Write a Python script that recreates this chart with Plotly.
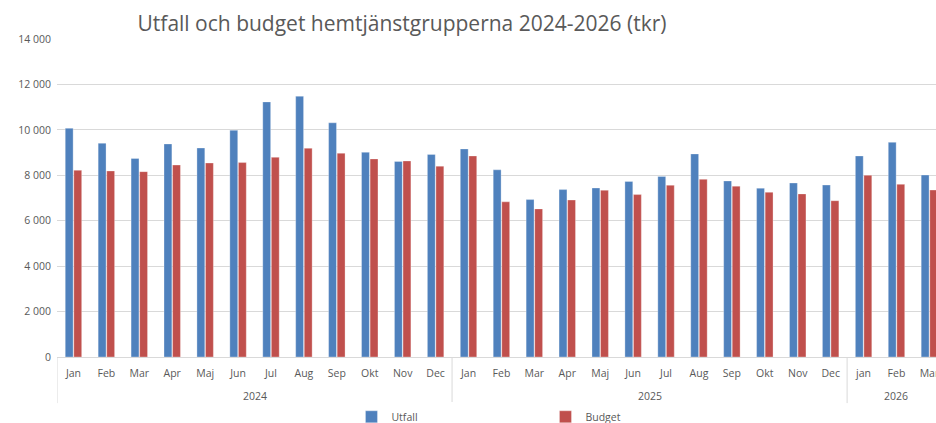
import plotly.graph_objects as go

# Data (tkr)
years = ["2024"] * 12 + ["2025"] * 12 + ["2026"] * 3
months = ["Jan", "Feb", "Mar", "Apr", "Maj", "Jun", "Jul", "Aug", "Sep", "Okt", "Nov", "Dec",
          "Jan", "Feb", "Mar", "Apr", "Maj", "Jun", "Jul", "Aug", "Sep", "Okt", "Nov", "Dec",
          "jan", "Feb", "Mar"]
utfall = [10070, 9410, 8740, 9380, 9200, 9980, 11230, 11480, 10310, 9010, 8610, 8920,
          9160, 8240, 6930, 7370, 7440, 7730, 7950, 8940, 7750, 7430, 7660, 7570,
          8850, 9450, 8010]
budget = [8220, 8190, 8160, 8450, 8540, 8560, 8790, 9190, 8970, 8720, 8630, 8400,
          8850, 6830, 6520, 6910, 7340, 7150, 7560, 7820, 7520, 7250, 7180, 6880,
          8000, 7600, 7350]
y_ticks = [0, 2000, 4000, 6000, 8000, 10000, 12000, 14000]

BLUE = "#4F81BD"
RED = "#C0504D"
GREY_TXT = "#595959"
GRID = "#d9d9d9"

# unique category keys, month names shown as tick text
keys = [f"{y}-{i}" for i, y in enumerate(years)]

fig = go.Figure()
fig.add_trace(go.Bar(x=keys, y=utfall, name="Utfall",
                     marker=dict(color=BLUE, line=dict(color="rgba(255,255,255,0.6)", width=0.5))))
fig.add_trace(go.Bar(x=keys, y=budget, name="Budget",
                     marker=dict(color=RED, line=dict(color="rgba(255,255,255,0.6)", width=0.5))))

# year groups: label under the months, divider lines at group edges
year_list = sorted(set(years))
for yr in year_list:
    idx = [i for i, y in enumerate(years) if y == yr]
    first, last = idx[0], idx[-1]
    fig.add_annotation(x=(first + last) / 2, y=-0.1226, xref="x", yref="paper",
                       text=yr, showarrow=False, yanchor="middle",
                       font=dict(size=10.5, color=GREY_TXT))
    fig.add_shape(type="line", xref="x", yref="paper", x0=first - 0.5, x1=first - 0.5,
                  y0=0, y1=-0.145, line=dict(color=GRID, width=1))

fig.update_layout(
    width=936, height=423,
    margin=dict(l=57, r=0, t=39, b=66, autoexpand=False),
    paper_bgcolor="white", plot_bgcolor="white",
    font=dict(family="Open Sans, Liberation Sans, sans-serif", size=10.5, color=GREY_TXT),
    separators=", ",
    bargap=0.48, bargroupgap=0.08,
    title=dict(text="Utfall och budget hemtjänstgrupperna 2024-2026 (tkr)",
               x=402 / 936, xref="container", xanchor="center", y=0.945, yanchor="middle",
               font=dict(size=21, color=GREY_TXT)),
    legend=dict(orientation="h", x=0.335, y=-0.1425, xanchor="left", yanchor="top",
                entrywidth=149, entrywidthmode="pixels",
                font=dict(size=10.5, color=GREY_TXT), itemwidth=30, traceorder="normal"),
    showlegend=True,
)

fig.update_xaxes(
    type="category",
    range=[-0.5, 26.2],
    tickvals=keys, ticktext=months,
    showline=True, linecolor=GRID, linewidth=1,
    showgrid=False, ticks="", ticklabelstandoff=6, automargin=False,
    tickfont=dict(size=10.5, color=GREY_TXT),
)
fig.update_yaxes(
    range=[0, 14000],
    tickvals=y_ticks,
    tickformat=",d", separatethousands=True,
    showgrid=True, gridcolor=GRID, gridwidth=1,
    zeroline=False, showline=False, ticks="", automargin=False,
    ticklabelstandoff=5,
    tickfont=dict(size=10.5, color=GREY_TXT),
)

# drop the default 8px body margin so the figure sits at the window origin
fig.write_html("out.html", config={"displayModeBar": False},
               post_script="document.body.style.margin='0';")
